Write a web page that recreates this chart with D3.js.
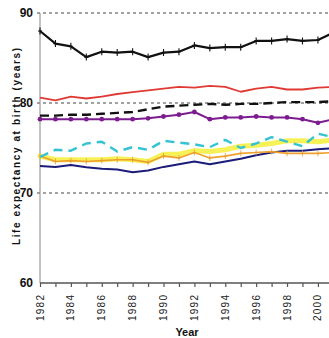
<!DOCTYPE html>
<html>
<head>
<meta charset="utf-8">
<script src="https://cdn.jsdelivr.net/npm/d3@7/dist/d3.min.js"></script>
<style>
  html, body { margin: 0; padding: 0; background: #fff; }
  svg { display: block; }
</style>
</head>
<body>
<svg id="chart" width="329" height="338"></svg>
<script>
// Life expectancy at birth, 1982-2001
const years = d3.range(1982, 2002);
const yTicks = [60, 70, 80, 90];
const xLabelYears = [1982, 1984, 1986, 1988, 1990, 1992, 1994, 1996, 1998, 2000];

const blackValues  = [88.0, 86.6, 86.3, 85.1, 85.7, 85.6, 85.7, 85.1, 85.6, 85.7, 86.4, 86.1, 86.2, 86.2, 86.9, 86.9, 87.1, 86.9, 87.0, 87.8];
const redValues    = [80.6, 80.3, 80.7, 80.5, 80.7, 81.0, 81.2, 81.4, 81.6, 81.8, 81.7, 81.9, 81.8, 81.25, 81.6, 81.8, 81.5, 81.5, 81.7, 81.8];
const dashedValues = [78.6, 78.6, 78.7, 78.7, 78.8, 78.9, 79.0, 79.3, 79.6, 79.7, 79.8, 79.9, 79.8, 79.9, 79.9, 80.0, 80.1, 80.1, 80.1, 80.2];
const purpleValues = [78.2, 78.2, 78.2, 78.2, 78.2, 78.2, 78.2, 78.3, 78.5, 78.7, 79.0, 78.2, 78.4, 78.4, 78.5, 78.4, 78.4, 78.2, 77.8, 78.2];
const cyanValues   = [74.0, 74.8, 74.7, 75.5, 75.7, 74.6, 75.1, 74.8, 75.8, 75.6, 75.4, 75.1, 75.9, 75.0, 75.5, 76.2, 75.7, 75.2, 76.6, 76.2];
const yellowValues = [74.1, 73.7, 73.7, 73.7, 73.7, 73.8, 73.7, 73.5, 74.3, 74.3, 74.7, 74.6, 74.8, 75.2, 75.3, 75.5, 75.8, 75.8, 75.7, 75.9];
const orangeValues = [74.1, 73.5, 73.6, 73.5, 73.6, 73.7, 73.7, 73.4, 74.1, 73.9, 74.5, 73.9, 74.1, 74.4, 74.5, 74.6, 74.4, 74.4, 74.4, 74.5];
const navyValues   = [73.0, 72.9, 73.1, 72.85, 72.7, 72.6, 72.3, 72.5, 72.9, 73.2, 73.5, 73.2, 73.5, 73.8, 74.2, 74.5, 74.7, 74.7, 74.85, 75.0];

const svg = d3.select("#chart");
const W = 329;

const x = d3.scaleLinear().domain([1982, 2001]).range([40, 40 + 19 * 15.44]);
const y = d3.scaleLinear().domain([60, 90]).range([283, 13]);

// dotted gridlines at 70, 80, 90
svg.append("g")
  .selectAll("line")
  .data(yTicks.filter(t => t > 60))
  .join("line")
  .attr("x1", 37).attr("x2", W)
  .attr("y1", d => y(d)).attr("y2", d => y(d))
  .attr("stroke", "#444")
  .attr("stroke-width", 1.1)
  .attr("stroke-dasharray", "3,3");

// vertical axis line
svg.append("line")
  .attr("x1", x(1982)).attr("x2", x(1982))
  .attr("y1", y(90)).attr("y2", y(60))
  .attr("stroke", "#888").attr("stroke-width", 1);

// y tick labels
svg.append("g")
  .selectAll("text")
  .data(yTicks)
  .join("text")
  .attr("x", 33)
  .attr("y", d => y(d))
  .attr("dy", "0.36em")
  .attr("text-anchor", "end")
  .attr("font-family", "'Liberation Sans Narrow', 'Arial Narrow', sans-serif")
  .attr("font-weight", "bold")
  .attr("font-size", 12)
  .attr("fill", "#111")
  .text(d => d);

// x axis with a tick each year, labels every two years
const xAxis = d3.axisBottom(x)
  .tickValues(years)
  .tickSize(4)
  .tickFormat("");
const gx = svg.append("g")
  .attr("transform", `translate(0,${y(60)})`)
  .call(xAxis);
gx.select(".domain").attr("stroke", "#555").attr("stroke-width", 1.5).attr("d", `M${x(1982)},0H${W + 5}`);
gx.selectAll(".tick line").attr("stroke", "#555").attr("stroke-width", 1.2);

svg.append("g")
  .selectAll("text")
  .data(xLabelYears)
  .join("text")
  .attr("transform", d => `translate(${x(d) + 3.5},321) rotate(-90)`)
  .attr("font-family", "'Liberation Sans', Arial, sans-serif")
  .attr("font-size", 10)
  .attr("textLength", 26)
  .attr("lengthAdjust", "spacing")
  .attr("fill", "#222")
  .text(d => d);

// axis titles
svg.append("text")
  .attr("x", 187).attr("y", 336)
  .attr("text-anchor", "middle")
  .attr("font-family", "'Liberation Sans Narrow', 'Arial Narrow', sans-serif")
  .attr("font-weight", "bold")
  .attr("font-size", 11)
  .attr("fill", "#111")
  .text("Year");

svg.append("text")
  .attr("transform", "translate(20,245) rotate(-90)")
  .attr("font-family", "'Liberation Sans', Arial, sans-serif")
  .attr("font-weight", "bold")
  .attr("font-size", 10)
  .attr("textLength", 197)
  .attr("lengthAdjust", "spacing")
  .attr("fill", "#111")
  .text("Life expectancy at birth (years)");

const line = d3.line()
  .x((d, i) => x(years[i]))
  .y(d => y(d));

const plot = svg.append("g");

function drawLine(values, opts) {
  plot.append("path")
    .datum(values)
    .attr("d", line)
    .attr("fill", "none")
    .attr("stroke", opts.color)
    .attr("stroke-width", opts.width)
    .attr("stroke-opacity", opts.opacity || 1)
    .attr("stroke-dasharray", opts.dash || null)
    .attr("stroke-linejoin", "round")
    .attr("stroke-linecap", opts.cap || "butt");
}

function drawPlus(values, color, h, w, sw) {
  plot.append("g")
    .selectAll("path")
    .data(values)
    .join("path")
    .attr("transform", (d, i) => `translate(${x(years[i])},${y(d)})`)
    .attr("d", `M${-w},0H${w}M0,${-h}V${h}`)
    .attr("stroke", color)
    .attr("stroke-width", sw)
    .attr("fill", "none");
}

function drawDots(values, color, r) {
  plot.append("g")
    .selectAll("circle")
    .data(values)
    .join("circle")
    .attr("cx", (d, i) => x(years[i]))
    .attr("cy", d => y(d))
    .attr("r", r)
    .attr("fill", color);
}

// yellow band first, then the lines over it
drawLine(yellowValues, { color: "#f4ee3a", width: 5, opacity: 0.85, cap: "round" });
drawLine(navyValues, { color: "#1c1c7a", width: 2 });
drawLine(orangeValues, { color: "#f0a02c", width: 1.6 });
drawPlus(orangeValues, "#e89a30", 3, 1.5, 0.8);
drawLine(cyanValues, { color: "#34c3d3", width: 2.4, dash: "9,6" });
drawLine(purpleValues, { color: "#7d1c8f", width: 2 });
drawDots(purpleValues, "#7d1c8f", 2.4);
drawLine(dashedValues, { color: "#111", width: 2.4, dash: "9,5" });
drawLine(redValues, { color: "#e03a34", width: 1.8 });
drawLine(blackValues, { color: "#111", width: 2.2 });
drawPlus(blackValues, "#111", 3.5, 2, 1.1);
</script>
</body>
</html>
